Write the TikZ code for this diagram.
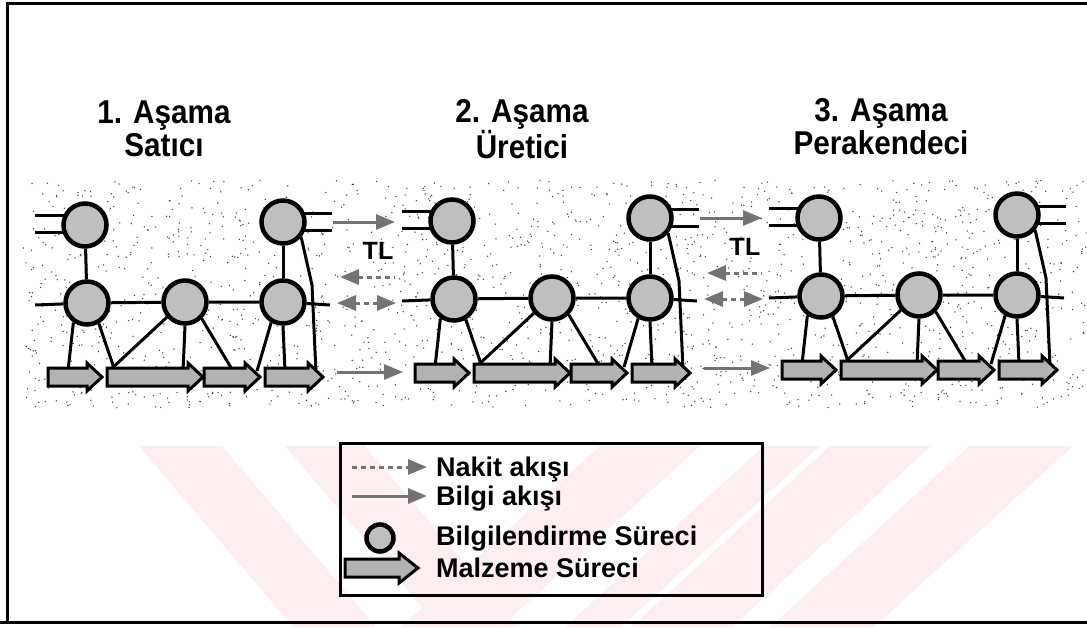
\documentclass[tikz,border=0pt]{standalone}
\usepackage{fontspec}
\setmainfont{Liberation Sans}
\newfontfamily\titlefont[FakeStretch=0.9]{Liberation Sans}
\usetikzlibrary{arrows.meta,calc}
\pgfdeclarelayer{bg}
\pgfdeclarelayer{ln}
\pgfsetlayers{bg,ln,main}
\definecolor{wm}{HTML}{FDEEF1}
\newcommand\blockarr[3]{\draw[mat] (#1,#3-9) -- (#2-15,#3-9) -- (#2-15,#3-14) -- (#2,#3) -- (#2-15,#3+14) -- (#2-15,#3+9) -- (#1,#3+9) -- cycle;}
\begin{document}
\begin{tikzpicture}[x=1pt,y=-1pt,
  proc/.style={circle,draw=black,line width=4.5pt,fill=black!25,minimum size=43pt,inner sep=0pt},
  link/.style={line width=3pt,black},
  mat/.style={draw=black,line width=3pt,fill=black!30,line join=miter},
  info/.style={line width=3pt,black!55,-{Triangle[length=19pt,width=15pt]}},
  cashline/.style={line width=3pt,black!55,dash pattern=on 5pt off 4pt},
  titletext/.style={font=\titlefont\fontsize{33}{33}\selectfont\bfseries,align=center,anchor=north,inner sep=0pt},
  legtext/.style={font=\fontsize{27}{27}\selectfont\bfseries,anchor=base west,inner sep=0pt},
  tltext/.style={font=\fontsize{25}{25}\selectfont\bfseries,inner sep=0pt}
]
\useasboundingbox (0,0) rectangle (1087,627);

% background, watermark and stipple
\begin{pgfonlayer}{bg}
  \fill[white] (0,0) rectangle (1087,627);
  \fill[wm] (139,446) -- (222,446) -- (376,627) -- (293,627) -- cycle;
  \fill[wm] (285,446) -- (365,446) -- (519,627) -- (439,627) -- cycle;
  \fill[wm] (600,446) -- (700,446) -- (501,627) -- (401,627) -- cycle;
  \fill[wm] (764,446) -- (820,446) -- (621,627) -- (565,627) -- cycle;
  \fill[wm] (830,446) -- (931,446) -- (732,627) -- (631,627) -- cycle;
  \fill[wm] (969,446) -- (1073,446) -- (874,627) -- (770,627) -- cycle;
  \pgfmathsetseed{12}
  \foreach \i in {1,...,1900}{
    \pgfmathsetmacro\xx{22+1065*rnd}
    \pgfmathsetmacro\yy{180+228*rnd}
    \fill[black!75] (\xx,\yy) circle (0.75);
  }
\end{pgfonlayer}

% frame
\draw[line width=3pt] (7,622) -- (7,3) -- (1087,3);
\draw[line width=3pt] (0,622) -- (1087,622);

% titles
\node[titletext] (t1) at (164,101) {1. Aşama\\Satıcı};
\node[titletext] (t2) at (522,99) {2. Aşama\\Üretici};
\node[titletext] (t3) at (881,98) {3. Aşama\\Perakendeci};

\foreach \p/\dx/\dy in {1/0/0,2/367/-4,3/734/-7}{
  \begin{scope}[shift={(\dx,\dy)}]
    \node[proc] (tl\p) at (85,225) {};
    \node[proc] (tr\p) at (283,222) {};
    \node[proc] (ml\p) at (87,303) {};
    \node[proc] (mc\p) at (185,302) {};
    \node[proc] (mr\p) at (283,302) {};
    \coordinate (sla\p) at (35,215);
    \coordinate (slb\p) at (35,232);
    \coordinate (sra\p) at (332,213);
    \coordinate (srb\p) at (332,230);
    \coordinate (hl\p) at (35,305);
    \coordinate (hr\p) at (330,305);
    \coordinate (ea\p) at (68,371);
    \coordinate (eb\p) at (115,371);
    \coordinate (ec\p) at (109,371);
    \coordinate (ed\p) at (183,371);
    \coordinate (ee\p) at (233,371);
    \coordinate (ef\p) at (257,371);
    \coordinate (eg\p) at (285,371);
    \coordinate (bk\p) at (312,285);
    \coordinate (eh\p) at (316,373);
    \blockarr{48}{102}{377}
    \blockarr{107}{203}{377}
    \blockarr{204}{260}{377}
    \blockarr{265}{323}{377}
    \begin{pgfonlayer}{ln}
      \draw[link] (sla\p) -- (sla\p -| tl\p);
      \draw[link] (slb\p) -- (slb\p -| tl\p);
      \draw[link] (sra\p) -- (sra\p -| tr\p);
      \draw[link] (srb\p) -- (srb\p -| tr\p);
      \draw[link] (tl\p) -- (ml\p);
      \draw[link] (tr\p) -- (mr\p);
      \draw[link] (hl\p) -- (ml\p) -- (mc\p) -- (mr\p) -- (hr\p);
      \draw[link] (ml\p.235) -- (ea\p);
      \draw[link] (ml\p.300) -- (eb\p);
      \draw[link] (mc\p.220) -- (ec\p);
      \draw[link] (mc\p.south) -- (ed\p);
      \draw[link] (mc\p.315) -- (ee\p);
      \draw[link] (mr\p.240) -- (ef\p);
      \draw[link] (mr\p.south) -- (eg\p);
      \draw[link] (tr\p.320) -- (bk\p) -- (eh\p);
    \end{pgfonlayer}
    \ifnum\p<3
      \coordinate (ia\p) at (333,222);
      \coordinate (ib\p) at (395,222);
      \coordinate (ca\p) at (340,277);
      \coordinate (cb\p) at (395,277);
      \coordinate (da\p) at (337,303);
      \coordinate (db\p) at (396,303);
      \coordinate (ba\p) at (337,372);
      \coordinate (bb\p) at (403,372);
      \draw[info] (ia\p) -- (ib\p);
      \node[tltext] (tlab\p) at (378,251) {TL};
      \draw[cashline,{Triangle[length=19pt,width=15pt]}-] (ca\p) -- (cb\p);
      \draw[cashline,{Triangle[length=19pt,width=15pt]}-{Triangle[length=19pt,width=15pt]}] (da\p) -- (db\p);
      \draw[info] (ba\p) -- (bb\p);
    \fi
  \end{scope}
}

% legend
\node[draw=black,line width=3pt,minimum width=422pt,minimum height=152pt,inner sep=0pt] (legend) at (551,519) {};
\coordinate (lna) at (352,467);
\coordinate (lnb) at (427,467);
\coordinate (lba) at (352,496);
\coordinate (lbb) at (427,496);
\draw[cashline,-{Triangle[length=19pt,width=15pt]}] (lna) -- (lnb);
\draw[info] (lba) -- (lbb);
\node[proc,minimum size=27pt] (lcirc) at (380,538) {};
\draw[mat] (345,559) -- (399,559) -- (399,553) -- (418,568) -- (399,583) -- (399,577) -- (345,577) -- cycle;
\node[legtext] (l1) at (436,476) {Nakit akışı};
\node[legtext] (l2) at (436,505) {Bilgi akışı};
\node[legtext] (l3) at (436,545) {Bilgilendirme Süreci};
\node[legtext] (l4) at (436,577) {Malzeme Süreci};
\end{tikzpicture}
\end{document}
